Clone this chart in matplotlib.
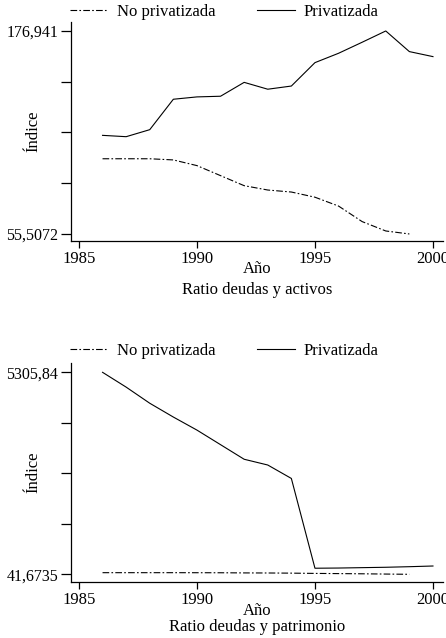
import matplotlib
matplotlib.use("Agg")
import matplotlib.pyplot as plt
from matplotlib.lines import Line2D

plt.rcParams["font.family"] = ["Liberation Serif", "DejaVu Serif"]
plt.rcParams["font.size"] = 12

years = list(range(1986, 2001))
years_np = list(range(1986, 2000))

# Ratio deudas y activos
activos_priv = [114.5, 113.7, 117.9, 136.1, 137.5, 137.9, 146.2, 142.1,
                144.0, 158.0, 163.6, 170.2, 176.941, 164.6, 161.6]
activos_nopriv = [100.5, 100.5, 100.5, 99.8, 96.4, 90.4, 84.4, 81.8,
                  80.6, 77.5, 72.2, 62.9, 57.3, 55.5072]

# Ratio deudas y patrimonio
patrim_priv = [5305.84, 4920, 4500, 4140, 3800, 3420, 3040, 2890,
               2540, 200, 205, 215, 225, 240, 258]
patrim_nopriv = [84, 84, 84, 84, 83, 82, 78, 76, 72, 65, 60, 55, 48, 41.6735]

x_ticks = [1985, 1990, 1995, 2000]
dashdot = (0, (6, 2, 1.5, 2))


def panel(fig, rect, y_priv, y_nopriv, ymin, ymax, ylim, ymin_lbl, ymax_lbl,
          title, title_y, ano_y, legend_y):
    ax = fig.add_axes(rect)
    ax.plot(years_np, y_nopriv, color="black", linewidth=0.8, linestyle=dashdot)
    ax.plot(years, y_priv, color="black", linewidth=0.8)
    ax.set_xlim(1984.66, 2000.42)
    ax.set_ylim(*ylim)
    step = (ymax - ymin) / 4
    ax.set_yticks([ymin + i * step for i in range(5)])
    ax.set_yticklabels([ymin_lbl, "", "", "", ymax_lbl])
    ax.set_xticks(x_ticks)
    ax.set_xticklabels([str(t) for t in x_ticks])
    for s in ["top", "right"]:
        ax.spines[s].set_visible(False)
    for s in ["left", "bottom"]:
        ax.spines[s].set_linewidth(0.9)
    ax.tick_params(axis="y", direction="out", length=7, width=0.9, pad=2,
                   labelsize=11.5)
    ax.tick_params(axis="x", direction="out", length=5, width=0.9, pad=2)
    ax.set_ylabel("Índice")
    ax.yaxis.set_label_coords(-0.078, 0.5)
    fig.text(0.577, ano_y, "Año", ha="center", va="center")
    fig.text(0.577, title_y, title, ha="center", va="center")
    handles = [Line2D([], [], color="black", linewidth=0.8, linestyle=dashdot),
               Line2D([], [], color="black", linewidth=0.8)]
    fig.legend(handles, ["No privatizada", "Privatizada"], ncol=2,
               loc="center left", bbox_to_anchor=(70 / 446, legend_y),
               frameon=False, handlelength=2.3, handletextpad=0.5,
               columnspacing=2.5, borderpad=0, borderaxespad=0)
    return ax


fig = plt.figure(figsize=(4.46, 6.38), dpi=100)

panel(fig, [0.159, 0.6223, 0.834, 0.3432], activos_priv, activos_nopriv,
      55.5072, 176.941, (51.32, 182.3), "55,5072", "176,941",
      "Ratio deudas y activos", 1 - 290 / 638, 1 - 269 / 638, 1 - 12 / 638)

panel(fig, [0.159, 0.0873, 0.834, 0.3437], patrim_priv, patrim_nopriv,
      41.6735, 5305.84, (-166.8, 5548), "41,6735", "5305,84",
      "Ratio deudas y patrimonio", 1 - 627 / 638, 1 - 611 / 638, 1 - 351 / 638)

fig.savefig("out.png", dpi=100)
